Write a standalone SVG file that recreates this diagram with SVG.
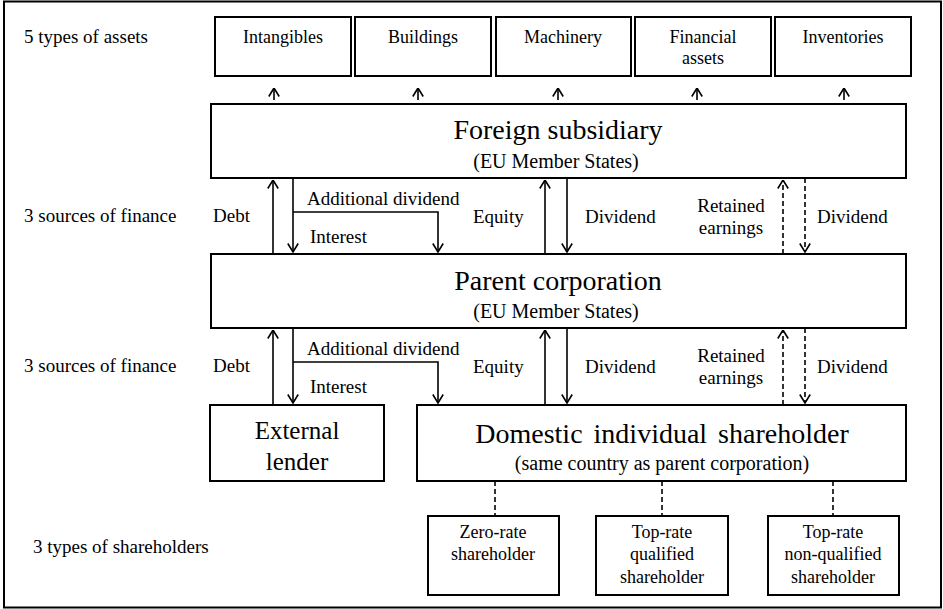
<svg xmlns="http://www.w3.org/2000/svg" width="943" height="609" viewBox="0 0 943 609">
<style>
  .box{fill:#fff;stroke:#000;stroke-width:2}
  .t{font-family:"Liberation Serif","Times New Roman",serif;fill:#000}
  .lab{font-size:19px}
  .ast{font-size:18px;text-anchor:middle}
  .big{font-size:28px;text-anchor:middle}
  .sub{font-size:20px;text-anchor:middle}
  .sh{font-size:18px;text-anchor:middle}
  .ar{fill:none;stroke:#000;stroke-width:1.6;marker-end:url(#ah)}
  .da{fill:none;stroke:#000;stroke-width:1.6;stroke-dasharray:5 3;marker-end:url(#ah)}
  .dl{fill:none;stroke:#000;stroke-width:1.6;stroke-dasharray:5 3}
</style>
<defs>
  <marker id="ah" viewBox="0 0 10 12" refX="9.5" refY="6" markerWidth="10" markerHeight="12" markerUnits="userSpaceOnUse" orient="auto">
    <path d="M1,0.8 L9.5,6 L1,11.2" fill="none" stroke="#000" stroke-width="1.6" stroke-dasharray="none"/>
  </marker>
</defs>
<rect x="4" y="1.5" width="937" height="606" fill="#fff" stroke="#000" stroke-width="2"/>

<g id="side-labels" class="t lab">
  <text x="24" y="43">5 types of assets</text>
  <text x="24" y="222">3 sources of finance</text>
  <text x="24" y="372">3 sources of finance</text>
  <text x="33" y="553">3 types of shareholders</text>
</g>

<g id="intangibles"><rect class="box" x="215" y="17" width="136" height="59"/><text class="t ast" x="283" y="43">Intangibles</text></g>
<g id="buildings"><rect class="box" x="355" y="17" width="136" height="59"/><text class="t ast" x="423" y="43">Buildings</text></g>
<g id="machinery"><rect class="box" x="496" y="17" width="135" height="59"/><text class="t ast" x="563" y="43">Machinery</text></g>
<g id="financial-assets"><rect class="box" x="635" y="17" width="136" height="59"/><text class="t ast" x="703" y="43">Financial</text><text class="t ast" x="703" y="64">assets</text></g>
<g id="inventories"><rect class="box" x="775" y="17" width="136" height="59"/><text class="t ast" x="843" y="43">Inventories</text></g>

<g id="foreign-subsidiary"><rect class="box" x="211" y="104" width="695" height="74"/><text class="t big" x="558" y="139">Foreign subsidiary</text><text class="t sub" x="556" y="168">(EU Member States)</text></g>
<g id="parent-corporation"><rect class="box" x="211" y="254" width="695" height="74"/><text class="t big" x="558" y="290">Parent corporation</text><text class="t sub" x="556" y="318">(EU Member States)</text></g>
<g id="external-lender"><rect class="box" x="210" y="405" width="174" height="76"/><text class="t" font-size="25" text-anchor="middle" x="297" y="439">External</text><text class="t" font-size="25" text-anchor="middle" x="297" y="470">lender</text></g>
<g id="domestic-shareholder"><rect class="box" x="417" y="405" width="489" height="76"/><text class="t big" x="662" y="443" word-spacing="4">Domestic individual shareholder</text><text class="t sub" x="662" y="470">(same country as parent corporation)</text></g>

<g id="zero-rate"><rect class="box" x="428" y="516" width="131" height="79"/><text class="t sh" x="493" y="538">Zero-rate</text><text class="t sh" x="493" y="560">shareholder</text></g>
<g id="top-rate-qualified"><rect class="box" x="596" y="516" width="132" height="79"/><text class="t sh" x="662" y="538">Top-rate</text><text class="t sh" x="662" y="560">qualified</text><text class="t sh" x="662" y="583">shareholder</text></g>
<g id="top-rate-non-qualified"><rect class="box" x="768" y="516" width="131" height="79"/><text class="t sh" x="833" y="538">Top-rate</text><text class="t sh" x="833" y="560">non-qualified</text><text class="t sh" x="833" y="583">shareholder</text></g>

<g id="connectors">
  <path class="ar" d="M274,100 V88"/>
  <path class="ar" d="M418,100 V88"/>
  <path class="ar" d="M558,100 V88"/>
  <path class="ar" d="M697,100 V88"/>
  <path class="ar" d="M844,100 V88"/>

  <path class="ar" d="M273,254 V180"/>
  <path class="ar" d="M293,178 V252"/>
  <path class="ar" d="M293,212 H438 V252"/>
  <path class="ar" d="M545,254 V180"/>
  <path class="ar" d="M567,178 V252"/>
  <path class="da" d="M783,254 V180"/>
  <path class="da" d="M805,178 V252"/>

  <path class="ar" d="M273,405 V330"/>
  <path class="ar" d="M293,328 V403"/>
  <path class="ar" d="M293,362 H438 V403"/>
  <path class="ar" d="M545,405 V330"/>
  <path class="ar" d="M567,328 V403"/>
  <path class="da" d="M783,405 V330"/>
  <path class="da" d="M805,328 V403"/>

  <path class="dl" d="M495,481 V516"/>
  <path class="dl" d="M662,481 V516"/>
  <path class="dl" d="M833,481 V516"/>
</g>

<g id="flow-labels" class="t lab">
  <text x="213" y="222">Debt</text>
  <text x="307" y="205">Additional dividend</text>
  <text x="310" y="243">Interest</text>
  <text x="473" y="223">Equity</text>
  <text x="585" y="223">Dividend</text>
  <text x="731" y="212" text-anchor="middle">Retained</text>
  <text x="731" y="234" text-anchor="middle">earnings</text>
  <text x="817" y="223">Dividend</text>

  <text x="213" y="372">Debt</text>
  <text x="307" y="355">Additional dividend</text>
  <text x="310" y="393">Interest</text>
  <text x="473" y="373">Equity</text>
  <text x="585" y="373">Dividend</text>
  <text x="731" y="362" text-anchor="middle">Retained</text>
  <text x="731" y="384" text-anchor="middle">earnings</text>
  <text x="817" y="373">Dividend</text>
</g>
</svg>
